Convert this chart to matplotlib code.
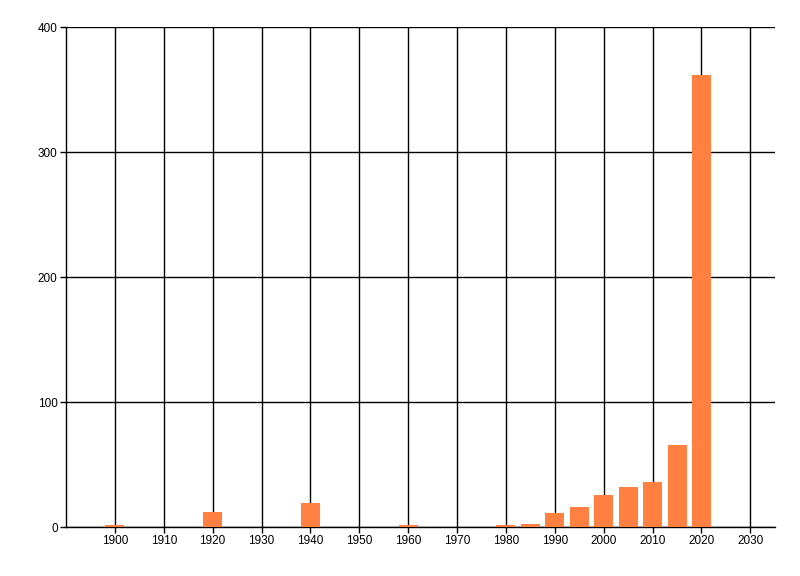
import matplotlib
matplotlib.use("Agg")
import matplotlib.pyplot as plt

years = [1900, 1920, 1940, 1960, 1980, 1985, 1990, 1995, 2000, 2005, 2010, 2015, 2020]
counts = [2, 12, 19, 1.5, 1.5, 2.5, 11.5, 16, 26, 32, 36, 65.5, 362]
xticks = list(range(1900, 2031, 10))
yticks = [0, 100, 200, 300, 400]

plt.rcParams["font.family"] = ["Liberation Sans", "DejaVu Sans"]
fig = plt.figure(figsize=(8, 5.76), dpi=100)
ax = fig.add_axes([0.0825, 0.085, 0.886, 0.868])

ax.bar(years, counts, width=3.9, color="#ff8040", zorder=3)

ax.set_xlim(1890, 2035)
ax.set_ylim(0, 400)
ax.set_xticks(xticks)
ax.set_yticks(yticks)
ax.grid(True, color="black", linewidth=1, zorder=1)
ax.set_axisbelow(True)

for side in ["top", "right"]:
    ax.spines[side].set_visible(False)
for side in ["left", "bottom"]:
    ax.spines[side].set_linewidth(1)
ax.tick_params(labelsize=8.5, length=4, width=1, direction="out", pad=2)

fig.savefig("out.png", dpi=100)
